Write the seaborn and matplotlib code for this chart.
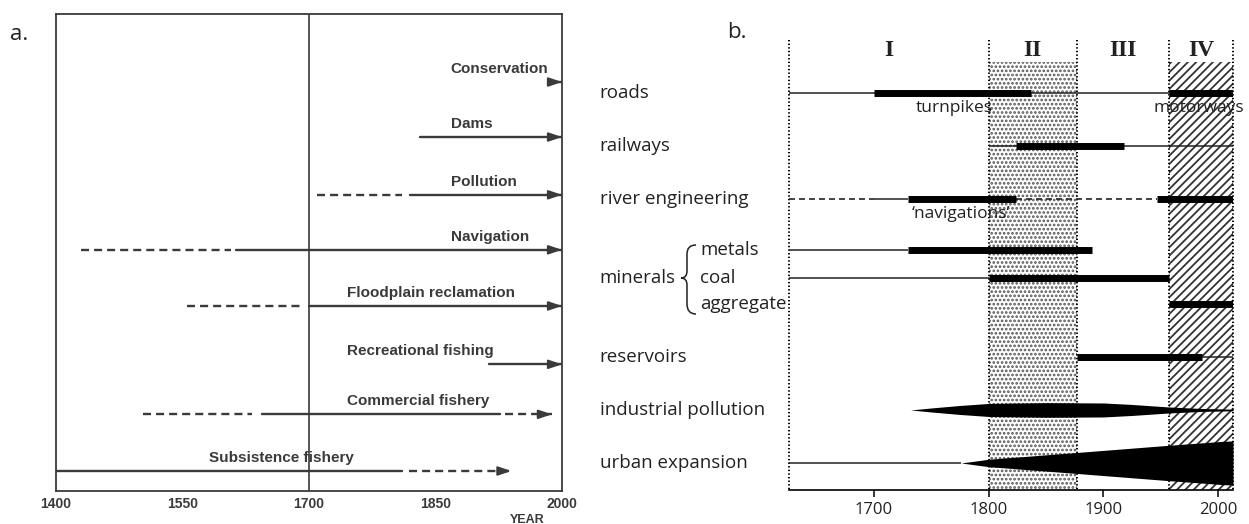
import numpy as np
import pandas as pd
import matplotlib
matplotlib.use("Agg")
import matplotlib.pyplot as plt
from matplotlib.path import Path
from matplotlib.patches import PathPatch
from matplotlib.transforms import Affine2D
import seaborn as sns

# --- panel a: river uses since 1400 ---
left_labels = ["Conservation", "Dams", "Pollution", "Navigation",
               "Floodplain reclamation", "Recreational fishing",
               "Commercial fishery", "Subsistence fishery"]
left_rows_y = [0, 0.99, 2.03, 3.02, 4.03, 5.08, 5.98, 7.0]
left_label_x = [1868, 1868, 1868, 1868, 1745, 1745, 1745, 1582]
left_solid = [[(1986, 2000)], [(1832, 2000)], [(1820, 2000)], [(1614, 2000)],
              [(1700, 2000)], [(1914, 2000)], [(1644, 1926)], [(1400, 1810)]]
left_dashed = [[], [], [(1709, 1810)], [(1430, 1607)], [(1555, 1693)], [],
               [(1503, 1633), (1932, 1988)], [(1818, 1940)]]
left_arrow_end = [2000, 2000, 2000, 2000, 2000, 2000, 1988, 1940]
left_ticks = [1400, 1550, 1700, 1850, 2000]

# --- panel b: periods and pressures ---
periods = [1626, 1800, 1877, 1957, 2013]
numerals = ["I", "II", "III", "IV"]
right_labels = ["roads", "railways", "river engineering", "metals", "coal",
                "aggregate", "reservoirs", "industrial pollution", "urban expansion"]
right_rows_y = [0, 1.0, 2.0, 2.96, 3.49, 3.98, 4.98, 5.98, 6.98]
right_thin = [[(1626, 2013)], [(1800, 2013)], [(1700, 1730)], [(1626, 1730)],
              [(1626, 1800)], [], [(1986, 2013)], [], [(1626, 1776)]]
right_dashed = [[], [], [(1626, 1700), (1824, 1947)], [], [], [], [], [], []]
right_thick = [[(1700, 1837), (1957, 2013)], [(1824, 1918)],
               [(1730, 1824), (1947, 2013)], [(1730, 1890)], [(1800, 1957)],
               [(1957, 2013)], [(1877, 1986)], [], []]
industrial_x = [1732, 1750, 1775, 1800, 1850, 1900, 1925, 1957, 1985, 2013]
industrial_hw = [0, 2, 4.5, 6.5, 7.3, 7, 5.5, 3, 1.5, 0.8]   # half width, px
urban_x = [1776, 1800, 1877, 1955, 2005, 2013]
urban_hw = [0, 3.7, 10.5, 17.5, 21.7, 22]
notes = [("turnpikes", 1770, 0), ("motorways", 1983, 0), ("\u2018navigations\u2019", 1776, 2)]
right_ticks = [1700, 1800, 1900, 2000]

sns.set_theme(style="white")
plt.rcParams["font.family"] = ["Open Sans", "DejaVu Sans"]
plt.rcParams["lines.scale_dashes"] = False
plt.rcParams["hatch.linewidth"] = 1.3

W, H = 1249, 524
fig = plt.figure(figsize=(W / 100, H / 100), dpi=100)
grey = "#3a3a3a"

# ---------------- panel a ----------------
ax1 = fig.add_axes([56 / W, (H - 491) / H, (562 - 56) / W, (491 - 14) / H])
segs = []
sid = 0
for i, y in enumerate(left_rows_y):
    for kind, lst in (("solid", left_solid[i]), ("dashed", left_dashed[i])):
        for a, b in lst:
            segs.append({"seg": sid, "kind": kind, "year": a, "row": y})
            segs.append({"seg": sid, "kind": kind, "year": b, "row": y})
            sid += 1
seg_df = pd.DataFrame(segs)
sns.lineplot(data=seg_df, x="year", y="row", units="seg", style="kind",
             dashes={"solid": "", "dashed": (5.8, 3.6)}, estimator=None,
             color=grey, lw=1.7, legend=False, sort=False, ax=ax1)

for i, y in enumerate(left_rows_y):
    end = left_arrow_end[i]
    ax1.annotate("", xy=(end, y), xytext=(end - 10, y),
                 arrowprops=dict(arrowstyle="-|>,head_length=0.65,head_width=0.22",
                                 color=grey, lw=1.5, shrinkA=0, shrinkB=0))
    ax1.text(left_label_x[i], y - 0.16, left_labels[i], fontsize=11,
             fontweight="bold", color=grey, va="baseline", ha="left",
             family=["Liberation Sans", "DejaVu Sans"])

ax1.axvline(1700, color=grey, lw=1.2)
ax1.set_xlim(1400, 2000)
ax1.set_ylim(7.36, -1.224)
ax1.set_xticks(left_ticks)
ax1.set_xticklabels([str(t) for t in left_ticks], fontsize=10, fontweight="bold",
                    color=grey, family=["Liberation Sans", "DejaVu Sans"])
ax1.set_yticks([])
ax1.set_xlabel("")
ax1.set_ylabel("")
ax1.tick_params(axis="x", direction="inout", length=5, width=1.2, color=grey, pad=2)
for s in ax1.spines.values():
    s.set_color(grey)
    s.set_linewidth(1.3)
ax1.text(0.931, -0.048, "YEAR", transform=ax1.transAxes, ha="center", va="top",
         fontsize=9, fontweight="bold", color=grey,
         family=["Liberation Sans", "DejaVu Sans"])

# ---------------- panel b ----------------
ax2 = fig.add_axes([789 / W, (H - 490) / H, (1233 - 789) / W, (490 - 40) / H])
ax2.set_xlim(periods[0], periods[-1])
ax2.set_ylim(7.49, -1.0)
px = 1 / 53.0  # one pixel in row units

ax2.fill_between([periods[1], periods[2]], -0.585, 7.49, facecolor="white",
                 edgecolor="#555555", hatch="....", lw=0, zorder=0)
ax2.fill_between([periods[3], periods[4]], -0.585, 7.49, facecolor="white",
                 edgecolor="#333333", hatch="////", lw=0, zorder=0)
ax2.vlines(periods, -1.0, 7.49, colors="black", linestyles=[(0, (1, 1.6))],
           lw=1.4, clip_on=False, zorder=1)

for k in range(4):
    ax2.text((periods[k] + periods[k + 1]) / 2, -0.81, numerals[k], ha="center",
             va="center", fontsize=17, fontweight="bold", color="#222222",
             family=["Liberation Serif", "DejaVu Serif"])

for i, y in enumerate(right_rows_y):
    for a, b in right_thin[i]:
        ax2.hlines(y, a, b, colors="#222222", lw=1.1, capstyle="butt", zorder=2)
    for a, b in right_dashed[i]:
        ax2.hlines(y, a, b, colors="#222222", lw=1.2, linestyles=[(0, (4.3, 2.9))], zorder=2)
    for a, b in right_thick[i]:
        ax2.hlines(y, a, b, colors="black", lw=5, capstyle="butt", zorder=3)

yi = right_rows_y[7]
hw = np.array(industrial_hw) * px
ax2.fill_between(industrial_x, yi - hw, yi + hw, color="black", lw=0, zorder=3)
yu = right_rows_y[8]
hw = np.array(urban_hw) * px
ax2.fill_between(urban_x, yu - hw, yu + hw, color="black", lw=0, zorder=3)

for txt, xv, r in notes:
    ax2.text(xv, right_rows_y[r] + 0.29, txt, ha="center", va="center",
             fontsize=12.5, color="#222222", zorder=4)

ytr = ax2.get_yaxis_transform()
main_rows = [0, 1, 2, 6, 7, 8]
for r in main_rows:
    ax2.text(-0.426, right_rows_y[r], right_labels[r], transform=ytr, ha="left",
             va="center", fontsize=13.5, color="#222222")
ax2.text(-0.426, right_rows_y[4], "minerals", transform=ytr, ha="left",
         va="center", fontsize=13.5, color="#222222")
for r in (3, 4, 5):
    ax2.text(-0.2005, right_rows_y[r], right_labels[r], transform=ytr, ha="left",
             va="center", fontsize=13.5, color="#222222")

# curly brace next to "minerals" (figure pixel coordinates, y from top)
bp = [(696, 245), (687, 245), (687, 254), (687, 271), (687, 278), (681, 278),
      (687, 278), (687, 285), (687, 304), (687, 314), (696, 314)]
codes = [Path.MOVETO, Path.CURVE3, Path.CURVE3, Path.LINETO, Path.CURVE3, Path.CURVE3,
         Path.CURVE3, Path.CURVE3, Path.LINETO, Path.CURVE3, Path.CURVE3]
brace = Path([(x, H - y) for x, y in bp], codes)
fig.patches.append(PathPatch(brace, transform=Affine2D().scale(1 / W, 1 / H) + fig.transFigure,
                             facecolor="none", edgecolor="#222222", lw=1.1))

ax2.set_xticks(right_ticks)
ax2.set_xticklabels([str(t) for t in right_ticks], fontsize=12, color="#222222")
ax2.set_yticks([])
ax2.tick_params(axis="x", direction="out", length=5, width=1.1, color="black", pad=4, bottom=True)
sns.despine(ax=ax2, left=True, top=True, right=True)
ax2.spines["bottom"].set_color("black")
ax2.spines["bottom"].set_linewidth(1.2)

fig.text(10 / W, 1 - 35 / H, "a.", fontsize=16, color="#222222", va="center", ha="left")
fig.text(727 / W, 1 - 33 / H, "b.", fontsize=16, color="#222222", va="center", ha="left")

fig.savefig("out.png", dpi=100)
